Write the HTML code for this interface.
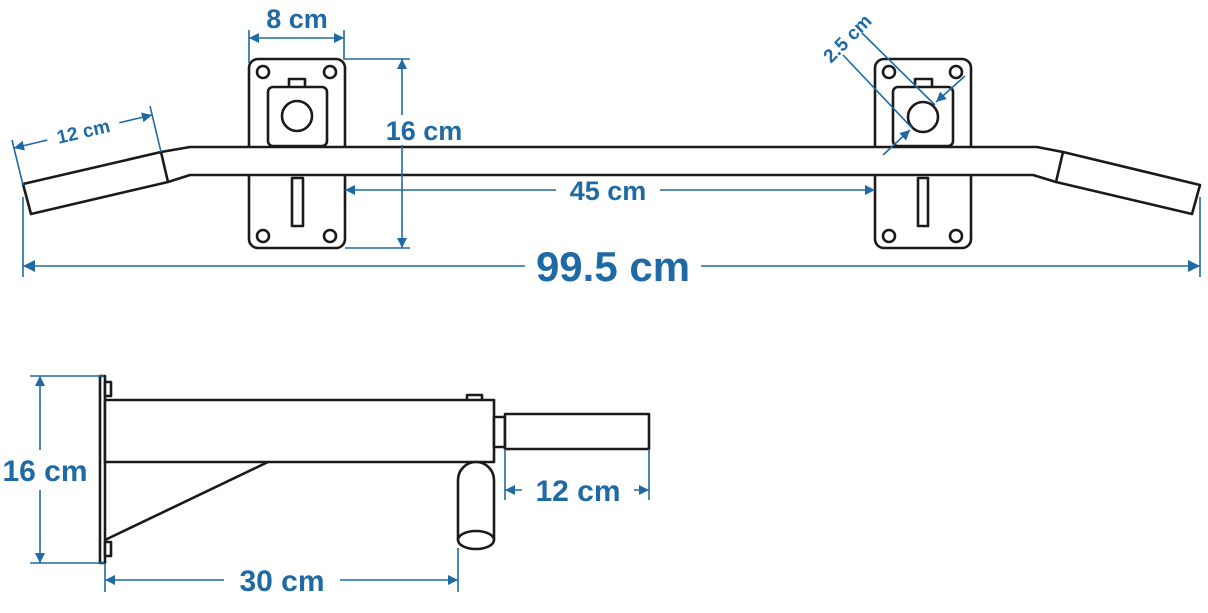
<!DOCTYPE html>
<html><head><meta charset="utf-8"><style>
html,body{margin:0;padding:0;background:#fff;width:1208px;height:613px;overflow:hidden}
svg{display:block}
.k{fill:none;stroke:#1a1a1a;stroke-width:2.6;stroke-linejoin:round}
.kf{fill:#fff;stroke:#1a1a1a;stroke-width:2.6;stroke-linejoin:round}
.b{stroke:#1f6aa5;stroke-width:1.6;fill:none}
.t{fill:#1f6aa5;font-family:"Liberation Sans",Arial,sans-serif;font-weight:bold}
</style></head><body>
<svg width="1208" height="613" viewBox="0 0 1208 613" xmlns="http://www.w3.org/2000/svg">
<defs>
<marker id="a" viewBox="0 0 10 10" refX="10" refY="5" markerWidth="15" markerHeight="10" markerUnits="userSpaceOnUse" orient="auto-start-reverse"><path d="M0,0 L10,5 L0,10 z" fill="#1f6aa5"/></marker>
<marker id="A" viewBox="0 0 10 10" refX="10" refY="5" markerWidth="20" markerHeight="12" markerUnits="userSpaceOnUse" orient="auto-start-reverse"><path d="M0,0 L10,5 L0,10 z" fill="#1f6aa5"/></marker>
</defs>

<rect class="kf" x="249" y="59" width="96" height="189" rx="9"/>
<rect class="kf" x="875" y="59" width="96" height="189" rx="9"/>
<g class="k" stroke-width="2">
<circle cx="263" cy="72" r="6"/><circle cx="330" cy="72" r="6"/><circle cx="263" cy="236" r="6"/><circle cx="330" cy="236" r="6"/>
<circle cx="889" cy="72" r="6"/><circle cx="956" cy="72" r="6"/><circle cx="889" cy="236" r="6"/><circle cx="956" cy="236" r="6"/>
</g>
<rect class="kf" x="289" y="79" width="16" height="9"/>
<rect class="kf" x="268" y="87" width="59" height="59" rx="5"/>
<circle class="k" cx="297" cy="116" r="15"/>
<rect class="kf" x="915" y="79" width="17" height="9"/>
<rect class="kf" x="893" y="87" width="60" height="59" rx="5"/>
<circle class="k" cx="923" cy="117" r="15"/>
<rect class="kf" x="292" y="178" width="11" height="48"/>
<rect class="kf" x="918" y="178" width="10" height="48"/>
<path d="M161,152 L190,147 L1037,147 L1063,152 L1056,182 L1033,175 L190,175 L168,182 Z" fill="#fff" stroke="none"/>
<path class="k" d="M161,152 L190,147 L1037,147 L1063,152"/>
<path class="k" d="M168,182 L190,175 L1033,175 L1056,182"/>
<polygon class="kf" points="23,184 161,152 168,182 31,214"/>
<polygon class="kf" points="1063,152 1200,185 1192,214 1056,182"/>

<line class="b" x1="249" y1="30" x2="249" y2="63"/>
<line class="b" x1="344" y1="30" x2="344" y2="60"/>
<line class="b" x1="249" y1="38" x2="344" y2="38" marker-start="url(#a)" marker-end="url(#a)"/>
<text class="t" x="297" y="28" font-size="27" text-anchor="middle">8 cm</text>

<line class="b" x1="345" y1="59" x2="410" y2="59"/>
<line class="b" x1="345" y1="248" x2="410" y2="248"/>
<line class="b" x1="402" y1="59" x2="402" y2="248" marker-start="url(#a)" marker-end="url(#a)"/>
<rect x="380" y="115" width="90" height="30" fill="#fff"/>
<text class="t" x="424" y="140" font-size="27" text-anchor="middle">16 cm</text>

<line class="b" x1="345" y1="190" x2="875" y2="190" marker-start="url(#a)" marker-end="url(#a)"/>
<rect x="556" y="177" width="104" height="28" fill="#fff"/>
<text class="t" x="608" y="200" font-size="27" text-anchor="middle">45 cm</text>

<line class="b" x1="23" y1="197" x2="23" y2="277"/>
<line class="b" x1="1200" y1="197" x2="1200" y2="277"/>
<line class="b" x1="23" y1="266" x2="1200" y2="266" marker-start="url(#A)" marker-end="url(#A)"/>
<rect x="525" y="244" width="176" height="44" fill="#fff"/>
<text class="t" x="613" y="281" font-size="42" text-anchor="middle">99.5 cm</text>

<line class="b" x1="12" y1="140" x2="23" y2="185"/>
<line class="b" x1="150" y1="106" x2="161" y2="152"/>
<line class="b" x1="14" y1="148" x2="152" y2="115" marker-start="url(#a)" marker-end="url(#a)"/>
<rect x="46" y="117" width="74" height="26" fill="#fff" transform="rotate(-13 83 130)"/>
<text class="t" x="83" y="138" font-size="19" text-anchor="middle" transform="rotate(-13 83 130)">12 cm</text>

<line class="b" x1="862" y1="33" x2="935" y2="105"/>
<line class="b" x1="843" y1="55" x2="912" y2="128"/>
<line class="b" x1="965" y1="76" x2="936" y2="102" marker-end="url(#a)"/>
<line class="b" x1="883" y1="155" x2="910" y2="130" marker-end="url(#a)"/>
<text class="t" x="847" y="45" font-size="19" text-anchor="middle" transform="rotate(-45 847 38)">2.5 cm</text>

<rect class="kf" x="100" y="376" width="5" height="187" stroke-width="2"/>
<rect class="kf" x="105" y="382" width="6" height="14" stroke-width="2"/>
<rect class="kf" x="105" y="542" width="6" height="14" stroke-width="2"/>
<rect class="kf" x="467" y="395" width="15" height="6" stroke-width="2"/>
<rect class="kf" x="105" y="400" width="389" height="62" stroke-width="2.2"/>
<line class="k" x1="268" y1="462" x2="105" y2="540" stroke-width="2"/>
<rect class="kf" x="494" y="417" width="11" height="30" stroke-width="2"/>
<rect class="kf" x="505" y="414" width="144" height="35" stroke-width="2.2"/>
<path class="kf" d="M458,540 L458,480 A18,18 0 0 1 494,480 L494,540" stroke-width="2"/>
<ellipse class="kf" cx="476" cy="540" rx="18" ry="9" stroke-width="2"/>

<line class="b" x1="30" y1="376" x2="104" y2="376"/>
<line class="b" x1="30" y1="563" x2="104" y2="563"/>
<line class="b" x1="40" y1="376" x2="40" y2="563" marker-start="url(#a)" marker-end="url(#a)"/>
<rect x="0" y="450" width="92" height="40" fill="#fff"/>
<text class="t" x="45" y="481" font-size="30" text-anchor="middle">16 cm</text>

<line class="b" x1="105" y1="563" x2="105" y2="592"/>
<line class="b" x1="458" y1="548" x2="458" y2="592"/>
<line class="b" x1="105" y1="580" x2="458" y2="580" marker-start="url(#a)" marker-end="url(#a)"/>
<rect x="224" y="562" width="116" height="36" fill="#fff"/>
<text class="t" x="282" y="591" font-size="30" text-anchor="middle">30 cm</text>

<line class="b" x1="505" y1="449" x2="505" y2="500"/>
<line class="b" x1="649" y1="449" x2="649" y2="500"/>
<line class="b" x1="505" y1="490" x2="649" y2="490" marker-start="url(#a)" marker-end="url(#a)"/>
<rect x="522" y="472" width="112" height="36" fill="#fff"/>
<text class="t" x="578" y="501" font-size="30" text-anchor="middle">12 cm</text>
</svg>
</body></html>
